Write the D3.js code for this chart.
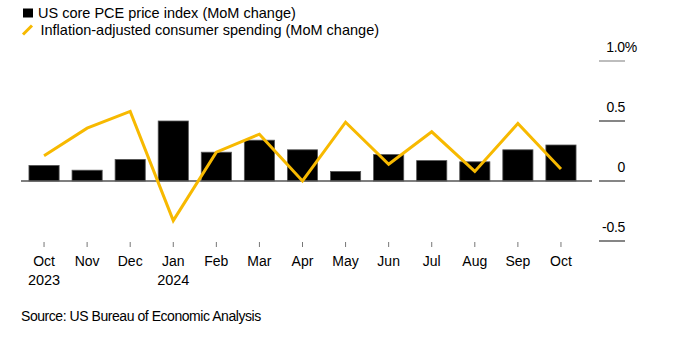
<!DOCTYPE html>
<html lang="en">
<head>
  <meta charset="UTF-8">
  <title>US core PCE vs consumer spending</title>
  <script src="https://d3js.org/d3.v7.min.js"></script>
  <style>
    body {
      margin: 0;
      background: #fff;
      font-family: 'Liberation Sans', Arial, sans-serif;
    }
    text {
      fill: #000;
    }
  </style>
</head>
<body>
  <svg width="694" height="342"></svg>

  <script>
    // Monthly data, Oct 2023 - Oct 2024
    const months = ["Oct", "Nov", "Dec", "Jan", "Feb", "Mar", "Apr", "May", "Jun", "Jul", "Aug", "Sep", "Oct"];
    const years = ["2023", "", "", "2024", "", "", "", "", "", "", "", "", ""];
    const corePce = [0.13, 0.09, 0.18, 0.50, 0.24, 0.34, 0.26, 0.08, 0.22, 0.17, 0.16, 0.26, 0.30];
    const realSpending = [0.21, 0.44, 0.58, -0.33, 0.24, 0.39, 0.0, 0.49, 0.14, 0.41, 0.08, 0.48, 0.10];
    const yTicks = [1.0, 0.5, 0, -0.5];
    const yTickLabels = ["1.0%", "0.5", "0", "-0.5"];

    const svg = d3.select("svg");
    const yellow = "#f7b900";

    const x = d3.scaleBand()
      .domain(d3.range(months.length))
      .range([22.5, 582.5])
      .paddingInner(0.3)
      .paddingOuter(0.15);

    const y = d3.scaleLinear()
      .domain([-0.5, 1.0])
      .range([241, 61]);

    const cx = i => x(i) + x.bandwidth() / 2;

    // Legend
    svg.append("rect")
      .attr("x", 23).attr("y", 8.5)
      .attr("width", 10).attr("height", 9)
      .attr("fill", "#000");
    svg.append("text")
      .attr("x", 38).attr("y", 18)
      .style("font-size", "14.5px")
      .text("US core PCE price index (MoM change)");
    svg.append("line")
      .attr("x1", 23).attr("y1", 34.5)
      .attr("x2", 32).attr("y2", 25.5)
      .attr("stroke", yellow)
      .attr("stroke-width", 3);
    svg.append("text")
      .attr("x", 40.5).attr("y", 35)
      .style("font-size", "14.5px")
      .text("Inflation-adjusted consumer spending (MoM change)");

    // Right-hand value axis
    const yAxis = svg.append("g");
    yTicks.forEach((v, i) => {
      yAxis.append("line")
        .attr("x1", 599).attr("x2", 625)
        .attr("y1", y(v)).attr("y2", y(v))
        .attr("stroke", i === 0 ? "#999" : "#444")
        .attr("stroke-width", 1.3);
      yAxis.append("text")
        .attr("x", i === 0 ? 637 : 625)
        .attr("y", y(v) - 9)
        .attr("text-anchor", "end")
        .style("font-size", "14px")
        .style("letter-spacing", "-0.3px")
        .text(yTickLabels[i]);
    });

    // Bars
    svg.append("g")
      .selectAll("rect")
      .data(corePce)
      .join("rect")
      .attr("x", (d, i) => x(i))
      .attr("y", d => y(Math.max(0, d)))
      .attr("width", x.bandwidth())
      .attr("height", d => Math.abs(y(d) - y(0)))
      .attr("fill", "#000")
      .attr("stroke", "#555")
      .attr("stroke-width", 0.8);

    // Zero line
    svg.append("line")
      .attr("x1", 21).attr("x2", 592)
      .attr("y1", y(0)).attr("y2", y(0))
      .attr("stroke", "#555")
      .attr("stroke-width", 1.3);

    // Spending line
    const line = d3.line()
      .x((d, i) => cx(i))
      .y(d => y(d));
    svg.append("path")
      .datum(realSpending)
      .attr("d", line)
      .attr("fill", "none")
      .attr("stroke", yellow)
      .attr("stroke-width", 3)
      .attr("stroke-linejoin", "miter");

    // Month axis
    const xAxis = svg.append("g");
    xAxis.selectAll("line")
      .data(months)
      .join("line")
      .attr("x1", (d, i) => cx(i)).attr("x2", (d, i) => cx(i))
      .attr("y1", 242).attr("y2", 247)
      .attr("stroke", "#777")
      .attr("stroke-width", 1);
    xAxis.selectAll(".month")
      .data(months)
      .join("text")
      .attr("class", "month")
      .attr("x", (d, i) => cx(i))
      .attr("y", 266)
      .attr("text-anchor", "middle")
      .style("font-size", "14px")
      .text(d => d);
    xAxis.selectAll(".year")
      .data(years)
      .join("text")
      .attr("class", "year")
      .attr("x", (d, i) => cx(i))
      .attr("y", 284.5)
      .attr("text-anchor", "middle")
      .style("font-size", "14.5px")
      .text(d => d);

    // Source
    svg.append("text")
      .attr("x", 21).attr("y", 321)
      .style("font-size", "14px")
      .style("letter-spacing", "-0.45px")
      .text("Source: US Bureau of Economic Analysis");
  </script>
</body>
</html>
